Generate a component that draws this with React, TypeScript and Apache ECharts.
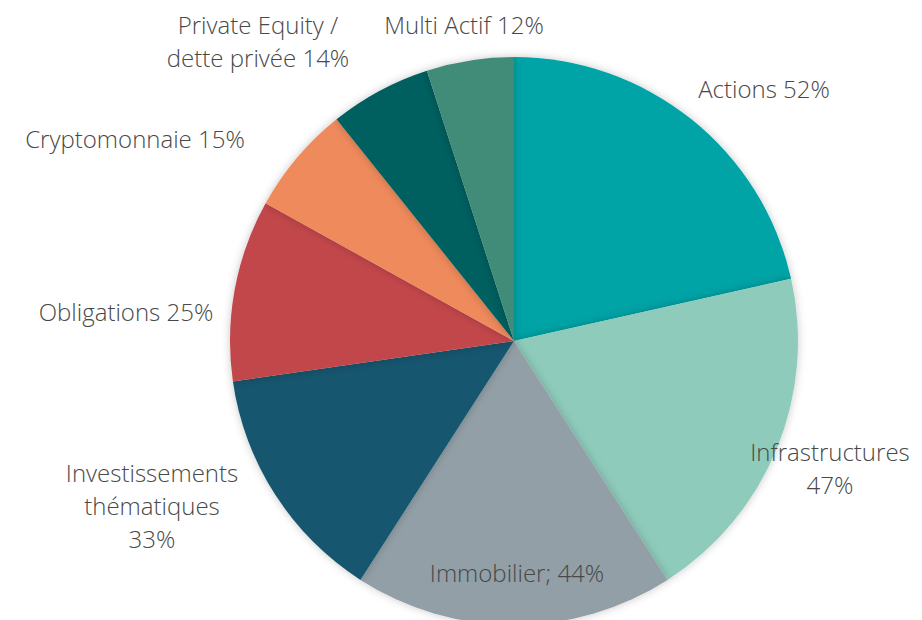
import React, { useEffect, useRef } from "react";
import * as echarts from "echarts";

const categories = [
  "Actions",
  "Infrastructures",
  "Immobilier",
  "Investissements thématiques",
  "Obligations",
  "Cryptomonnaie",
  "Private Equity / dette privée",
  "Multi Actif",
];
const values = [52, 47, 44, 33, 25, 15, 14, 12];
const labelTexts = [
  "Actions 52%",
  "Infrastructures\n47%",
  "Immobilier; 44%",
  "Investissements\nthématiques\n33%",
  "Obligations 25%",
  "Cryptomonnaie 15%",
  "Private Equity /\ndette privée 14%",
  "Multi Actif 12%",
];
const colors = [
  "#00A3A6",
  "#8ECBBB",
  "#929FA6",
  "#18566E",
  "#C2464C",
  "#EF8A5B",
  "#005F5F",
  "#3F8C78",
];

// layout: pie centre and label offsets (px) from the centre
const CX = 514;
const CY = 341;
const R = 284;
const labelOffsets = [
  [250, -253],
  [316, 127],
  [3, 231],
  [-362, 164],
  [-388, -30],
  [-379, -203],
  [-256, -300],
  [-50, -317],
];

export default function App() {
  const ref = useRef<HTMLDivElement>(null);
  useEffect(() => {
    document.body.style.margin = "0";
    const chart = echarts.init(ref.current!, null, { renderer: "svg" });
    chart.setOption({
      animation: false,
      backgroundColor: "#ffffff",
      series: [
        {
          type: "pie",
          center: [CX, CY],
          radius: R,
          startAngle: 90,
          clockwise: true,
          avoidLabelOverlap: false,
          data: categories.map((name, i) => ({
            name,
            value: values[i],
            itemStyle: { color: colors[i] },
          })),
          itemStyle: {
            borderWidth: 0,
            shadowBlur: 8,
            shadowColor: "rgba(0,0,0,0.22)",
          },
          label: {
            show: true,
            position: "outside",
            formatter: (p: any) => labelTexts[p.dataIndex],
            fontFamily: "'Open Sans', sans-serif",
            fontWeight: 300,
            fontSize: 24,
            lineHeight: 33,
            color: "#484848",
            align: "center",
          },
          labelLine: { show: false },
          labelLayout: (p: any) => {
            const o = labelOffsets[p.dataIndex];
            return {
              x: CX + o[0],
              y: CY + o[1],
              align: "center",
              verticalAlign: "middle",
            };
          },
          emphasis: { disabled: true },
        },
      ],
    });
    return () => chart.dispose();
  }, []);
  return <div ref={ref} style={{ width: 922, height: 620 }} />;
}
